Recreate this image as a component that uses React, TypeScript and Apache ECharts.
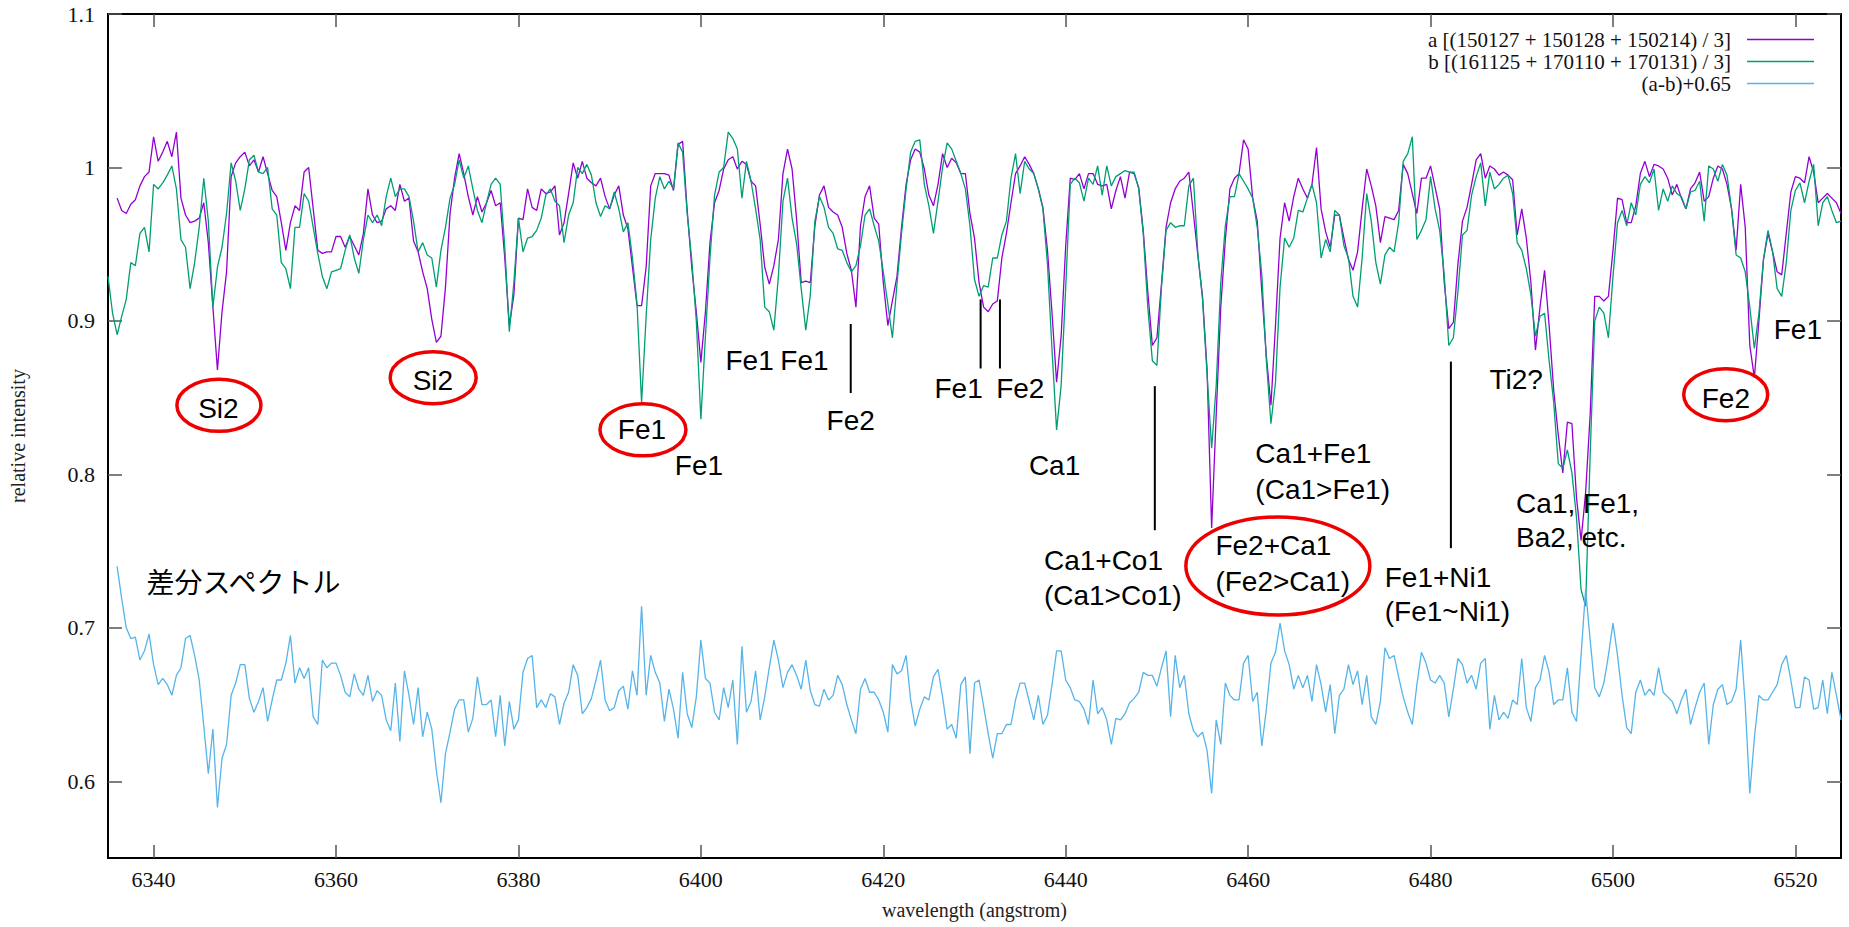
import React, { useEffect, useRef } from "react";
import * as echarts from "echarts";

// Sampling grid of the spectra (angstrom)
const wavelength = [
  6335,6335.5,6336,6336.5,6337,6337.5,6338,6338.5,6339,6339.5,6340,6340.5,6341,6341.5,6342,6342.5,6343,6343.5,6344,6344.5,
  6345,6345.5,6346,6346.5,6347,6347.5,6348,6348.5,6349,6349.5,6350,6350.5,6351,6351.5,6352,6352.5,6353,6353.5,6354,6354.5,
  6355,6355.5,6356,6356.5,6357,6357.5,6358,6358.5,6359,6359.5,6360,6360.5,6361,6361.5,6362,6362.5,6363,6363.5,6364,6364.5,
  6365,6365.5,6366,6366.5,6367,6367.5,6368,6368.5,6369,6369.5,6370,6370.5,6371,6371.5,6372,6372.5,6373,6373.5,6374,6374.5,
  6375,6375.5,6376,6376.5,6377,6377.5,6378,6378.5,6379,6379.5,6380,6380.5,6381,6381.5,6382,6382.5,6383,6383.5,6384,6384.5,
  6385,6385.5,6386,6386.5,6387,6387.5,6388,6388.5,6389,6389.5,6390,6390.5,6391,6391.5,6392,6392.5,6393,6393.5,6394,6394.5,
  6395,6395.5,6396,6396.5,6397,6397.5,6398,6398.5,6399,6399.5,6400,6400.5,6401,6401.5,6402,6402.5,6403,6403.5,6404,6404.5,
  6405,6405.5,6406,6406.5,6407,6407.5,6408,6408.5,6409,6409.5,6410,6410.5,6411,6411.5,6412,6412.5,6413,6413.5,6414,6414.5,
  6415,6415.5,6416,6416.5,6417,6417.5,6418,6418.5,6419,6419.5,6420,6420.5,6421,6421.5,6422,6422.5,6423,6423.5,6424,6424.5,
  6425,6425.5,6426,6426.5,6427,6427.5,6428,6428.5,6429,6429.5,6430,6430.5,6431,6431.5,6432,6432.5,6433,6433.5,6434,6434.5,
  6435,6435.5,6436,6436.5,6437,6437.5,6438,6438.5,6439,6439.5,6440,6440.5,6441,6441.5,6442,6442.5,6443,6443.5,6444,6444.5,
  6445,6445.5,6446,6446.5,6447,6447.5,6448,6448.5,6449,6449.5,6450,6450.5,6451,6451.5,6452,6452.5,6453,6453.5,6454,6454.5,
  6455,6455.5,6456,6456.5,6457,6457.5,6458,6458.5,6459,6459.5,6460,6460.5,6461,6461.5,6462,6462.5,6463,6463.5,6464,6464.5,
  6465,6465.5,6466,6466.5,6467,6467.5,6468,6468.5,6469,6469.5,6470,6470.5,6471,6471.5,6472,6472.5,6473,6473.5,6474,6474.5,
  6475,6475.5,6476,6476.5,6477,6477.5,6478,6478.5,6479,6479.5,6480,6480.5,6481,6481.5,6482,6482.5,6483,6483.5,6484,6484.5,
  6485,6485.5,6486,6486.5,6487,6487.5,6488,6488.5,6489,6489.5,6490,6490.5,6491,6491.5,6492,6492.5,6493,6493.5,6494,6494.5,
  6495,6495.5,6496,6496.5,6497,6497.5,6498,6498.5,6499,6499.5,6500,6500.5,6501,6501.5,6502,6502.5,6503,6503.5,6504,6504.5,
  6505,6505.5,6506,6506.5,6507,6507.5,6508,6508.5,6509,6509.5,6510,6510.5,6511,6511.5,6512,6512.5,6513,6513.5,6514,6514.5,
  6515,6515.5,6516,6516.5,6517,6517.5,6518,6518.5,6519,6519.5,6520,6520.5,6521,6521.5,6522,6522.5,6523,6523.5,6524,6524.5,
  6525,
];

// a [(150127 + 150128 + 150214) / 3]
const seriesA = [
  null,null,0.980,0.972,0.970,0.976,0.979,0.988,0.994,0.997,1.020,1.004,1.010,1.017,1.007,1.023,0.980,0.969,0.964,0.965,
  0.967,0.977,0.951,0.909,0.868,0.906,0.932,0.994,1.003,1.007,1.010,1.001,1.005,0.997,1.007,0.996,0.985,0.981,0.964,0.946,
  0.964,0.975,0.972,0.997,1.000,0.973,0.946,0.944,0.945,0.945,0.955,0.955,0.948,0.955,0.949,0.943,0.957,0.986,0.969,0.964,
  0.965,0.973,0.975,0.972,0.989,0.978,0.980,0.952,0.945,0.932,0.921,0.901,0.886,0.890,0.922,0.970,0.993,1.009,0.996,0.981,
  0.969,0.981,0.971,0.977,0.985,0.975,0.977,0.941,0.897,0.917,0.967,0.966,0.986,0.974,0.972,0.986,0.983,0.984,0.988,0.956,
  0.964,0.983,1.003,0.993,1.004,0.993,0.990,0.988,0.993,0.981,0.973,0.982,0.988,0.969,0.960,0.935,0.910,0.910,0.935,0.988,
  0.996,0.996,0.996,0.995,0.985,1.015,1.017,0.972,0.935,0.906,0.873,0.906,0.951,0.977,0.985,0.999,1.005,1.007,0.999,1.004,
  1.002,0.991,0.988,0.963,0.935,0.924,0.936,0.953,0.996,1.012,0.999,0.966,0.925,0.926,0.925,0.962,0.982,0.988,0.974,0.971,
  0.969,0.961,0.944,0.933,0.909,0.962,0.981,0.988,0.967,0.963,0.925,0.897,0.913,0.929,0.961,0.989,1.005,1.012,1.010,0.999,
  0.982,0.975,0.989,1.009,1.000,1.006,1.003,0.996,0.996,0.970,0.954,0.925,0.909,0.906,0.911,0.913,0.941,0.957,0.977,0.996,
  1.001,1.007,1.002,0.996,0.986,0.974,0.946,0.905,0.860,0.890,0.949,0.993,0.992,0.996,0.986,0.996,0.996,0.989,0.988,0.989,
  0.973,0.985,0.994,0.980,0.997,0.996,0.987,0.959,0.919,0.884,0.889,0.924,0.961,0.977,0.986,0.991,0.993,0.997,0.970,0.942,
  0.916,0.868,0.765,0.839,0.909,0.953,0.986,0.993,0.996,1.018,1.012,0.980,0.965,0.919,0.877,0.845,0.897,0.954,0.977,0.965,
  0.981,0.993,0.986,0.980,0.989,1.013,0.973,0.958,0.948,0.969,0.969,0.954,0.940,0.933,0.945,0.973,0.999,0.988,0.975,0.951,
  0.968,0.967,0.966,0.972,1.002,0.996,0.983,0.970,0.993,0.993,1.001,0.987,0.973,0.925,0.895,0.899,0.937,0.965,0.974,0.989,
  1.005,1.009,0.993,1.001,0.999,0.995,0.997,0.995,0.992,0.956,0.973,0.954,0.925,0.881,0.909,0.933,0.897,0.855,0.826,0.801,
  0.834,0.833,0.785,0.757,0.788,0.839,0.916,0.916,0.913,0.916,0.946,0.980,0.979,0.964,0.964,0.975,0.996,1.004,0.994,1.002,
  1.001,0.999,0.993,0.982,0.989,0.980,0.973,0.986,0.990,0.997,0.978,0.981,0.993,1.001,0.999,0.989,0.973,0.946,0.989,0.961,
  0.884,0.863,0.900,0.940,0.957,0.945,0.932,0.930,0.957,0.984,0.994,0.993,0.990,1.007,0.997,0.977,0.980,0.983,0.980,0.977,
  0.970,
];

// b [(161125 + 170110 + 170131) / 3]
const seriesB = [
  0.929,0.905,0.891,0.903,0.914,0.938,0.936,0.957,0.961,0.945,0.989,0.986,0.990,0.995,1.001,0.986,0.953,0.948,0.921,0.938,
  0.961,0.993,0.965,0.909,0.935,0.948,0.970,1.003,0.991,0.972,0.986,1.005,1.008,0.997,0.996,1.000,0.973,0.969,0.938,0.934,
  0.921,0.961,0.961,0.983,0.978,0.961,0.944,0.929,0.921,0.932,0.933,0.934,0.946,0.956,0.941,0.931,0.953,0.969,0.964,0.969,
  0.962,0.981,0.993,0.981,0.986,0.986,0.981,0.965,0.945,0.951,0.943,0.941,0.922,0.946,0.961,0.980,0.989,1.005,0.993,1.001,
  0.986,0.972,0.964,0.977,0.989,0.993,0.989,0.948,0.893,0.925,0.967,0.945,0.954,0.955,0.959,0.967,0.982,0.986,0.978,0.975,
  0.951,0.969,0.977,1.000,0.996,1.002,0.995,0.977,0.968,0.975,0.973,0.984,0.973,0.958,0.964,0.941,0.911,0.847,0.903,0.953,
  0.980,0.994,0.986,0.991,0.986,1.016,1.010,0.970,0.940,0.900,0.836,0.890,0.941,0.982,0.997,1.000,1.023,1.019,1.012,0.980,
  1.004,0.991,0.973,0.953,0.909,0.906,0.894,0.929,0.978,0.993,0.967,0.950,0.921,0.894,0.917,0.965,0.981,0.974,0.961,0.957,
  0.947,0.946,0.938,0.932,0.936,0.949,0.969,0.973,0.962,0.952,0.932,0.911,0.889,0.924,0.957,0.986,1.010,1.017,1.018,0.989,
  0.975,0.957,0.978,1.000,1.016,1.012,1.004,0.996,0.986,0.962,0.927,0.916,0.923,0.922,0.941,0.941,0.956,0.965,0.993,1.009,
  0.983,1.004,0.999,0.996,0.986,0.973,0.937,0.881,0.829,0.858,0.922,0.989,0.993,0.990,0.978,0.993,0.989,1.001,0.982,1.001,
  0.988,0.994,0.996,0.998,0.997,0.997,0.986,0.957,0.909,0.874,0.871,0.922,0.959,0.964,0.961,0.962,0.962,0.988,0.993,0.943,
  0.914,0.865,0.817,0.858,0.925,0.962,0.981,0.981,0.996,0.991,0.986,0.980,0.961,0.930,0.874,0.833,0.860,0.922,0.954,0.948,
  0.954,0.972,0.971,0.980,0.989,0.977,0.941,0.953,0.945,0.972,0.969,0.949,0.941,0.916,0.909,0.941,0.983,0.965,0.938,0.924,
  0.943,0.948,0.945,0.964,1.004,1.009,1.020,0.953,0.959,0.966,0.994,0.973,0.959,0.930,0.884,0.889,0.919,0.956,0.959,0.982,
  0.994,1.003,0.975,0.997,0.986,0.989,0.993,0.995,0.983,0.951,0.946,0.934,0.917,0.890,0.903,0.905,0.874,0.847,0.807,0.804,
  0.816,0.801,0.772,0.725,0.714,0.813,0.900,0.909,0.905,0.889,0.929,0.964,0.972,0.962,0.977,0.969,0.989,0.994,0.990,0.999,
  0.972,0.986,0.978,0.988,0.983,0.981,0.973,0.984,0.985,0.991,0.965,1.001,0.999,0.991,1.002,0.995,0.973,0.943,0.941,0.932,
  0.909,0.882,0.905,0.940,0.959,0.945,0.921,0.916,0.938,0.972,0.985,0.990,0.977,0.991,1.002,0.962,0.977,0.981,0.972,0.964,
  0.965,
];

// (a-b)+0.65
const seriesDiff = [
  null,null,0.740,0.719,0.700,0.693,0.694,0.679,0.685,0.696,0.676,0.663,0.667,0.663,0.656,0.669,0.674,0.693,0.695,0.682,
  0.666,0.636,0.605,0.634,0.583,0.615,0.624,0.656,0.664,0.676,0.676,0.654,0.645,0.652,0.661,0.639,0.653,0.666,0.666,0.677,
  0.695,0.664,0.674,0.667,0.674,0.642,0.637,0.679,0.674,0.677,0.677,0.669,0.658,0.655,0.670,0.660,0.656,0.669,0.652,0.659,
  0.656,0.640,0.633,0.664,0.626,0.672,0.656,0.637,0.661,0.629,0.645,0.634,0.607,0.586,0.618,0.632,0.647,0.653,0.653,0.632,
  0.641,0.668,0.650,0.650,0.653,0.629,0.656,0.623,0.652,0.634,0.640,0.671,0.680,0.682,0.648,0.653,0.648,0.657,0.655,0.637,
  0.651,0.658,0.676,0.669,0.644,0.648,0.654,0.666,0.679,0.653,0.646,0.648,0.659,0.662,0.647,0.672,0.656,0.714,0.656,0.682,
  0.671,0.664,0.639,0.660,0.647,0.628,0.671,0.644,0.635,0.655,0.692,0.667,0.664,0.645,0.640,0.661,0.648,0.666,0.624,0.688,
  0.645,0.652,0.672,0.640,0.655,0.674,0.692,0.679,0.661,0.671,0.676,0.669,0.660,0.679,0.659,0.650,0.649,0.660,0.653,0.656,
  0.669,0.663,0.650,0.640,0.631,0.660,0.667,0.658,0.658,0.653,0.645,0.632,0.676,0.670,0.672,0.682,0.653,0.636,0.647,0.655,
  0.653,0.668,0.673,0.655,0.634,0.637,0.628,0.663,0.668,0.618,0.664,0.666,0.649,0.631,0.615,0.631,0.631,0.637,0.637,0.653,
  0.664,0.664,0.652,0.640,0.656,0.637,0.643,0.663,0.685,0.685,0.666,0.661,0.653,0.652,0.647,0.637,0.666,0.644,0.648,0.640,
  0.624,0.641,0.640,0.644,0.651,0.654,0.658,0.671,0.669,0.669,0.662,0.674,0.685,0.642,0.682,0.661,0.669,0.644,0.633,0.629,
  0.632,0.620,0.592,0.640,0.624,0.664,0.656,0.653,0.653,0.677,0.682,0.652,0.658,0.623,0.647,0.677,0.684,0.703,0.685,0.676,
  0.660,0.669,0.661,0.669,0.652,0.676,0.663,0.645,0.663,0.631,0.656,0.660,0.676,0.663,0.672,0.650,0.669,0.642,0.637,0.652,
  0.687,0.680,0.682,0.668,0.655,0.645,0.637,0.663,0.684,0.677,0.666,0.664,0.669,0.664,0.642,0.660,0.680,0.676,0.664,0.669,
  0.660,0.677,0.680,0.634,0.656,0.640,0.645,0.641,0.653,0.650,0.680,0.648,0.639,0.661,0.666,0.682,0.671,0.650,0.653,0.653,
  0.674,0.645,0.639,0.682,0.725,0.692,0.661,0.655,0.664,0.682,0.703,0.682,0.656,0.635,0.631,0.658,0.666,0.656,0.660,0.656,
  0.674,0.658,0.655,0.652,0.644,0.653,0.660,0.637,0.648,0.658,0.664,0.624,0.650,0.660,0.663,0.650,0.652,0.660,0.692,0.650,
  0.592,0.628,0.656,0.653,0.653,0.658,0.663,0.676,0.682,0.666,0.648,0.648,0.668,0.666,0.647,0.648,0.666,0.644,0.671,0.656,
  0.640,
];

const xTicks = [6340, 6360, 6380, 6400, 6420, 6440, 6460, 6480, 6500, 6520];
const yTicks = [0.6, 0.7, 0.8, 0.9, 1.0, 1.1];

const seriesNames = [
  "a [(150127 + 150128 + 150214) / 3]",
  "b [(161125 + 170110 + 170131) / 3]",
  "(a-b)+0.65",
];
const seriesColors = ["#9400d3", "#009e73", "#56b4e9"];

// Line identifications (positions in data coordinates: wavelength, intensity)
const centeredLabels = [
  { text: "Si2", wl: 6347.1, v: 0.843 },
  { text: "Si2", wl: 6370.62, v: 0.861 },
  { text: "Fe1", wl: 6393.54, v: 0.8295 },
  { text: "Fe1", wl: 6399.79, v: 0.806 },
  { text: "Fe1", wl: 6405.34, v: 0.874 },
  { text: "Fe1", wl: 6411.36, v: 0.874 },
  { text: "Fe2", wl: 6416.43, v: 0.835 },
  { text: "Fe1", wl: 6428.26, v: 0.856 },
  { text: "Fe2", wl: 6435.02, v: 0.856 },
  { text: "Ca1", wl: 6438.78, v: 0.806 },
  { text: "Ti2?", wl: 6489.38, v: 0.8616 },
  { text: "Fe2", wl: 6512.38, v: 0.8497 },
  { text: "Fe1", wl: 6520.27, v: 0.8945 },
];
const leftLabels = [
  { text: "Ca1+Co1", wl: 6437.61, v: 0.7436 },
  { text: "(Ca1>Co1)", wl: 6437.61, v: 0.7208 },
  { text: "Fe2+Ca1", wl: 6456.41, v: 0.7535 },
  { text: "(Fe2>Ca1)", wl: 6456.41, v: 0.7300 },
  { text: "Ca1+Fe1", wl: 6460.79, v: 0.8136 },
  { text: "(Ca1>Fe1)", wl: 6460.79, v: 0.7900 },
  { text: "Fe1+Ni1", wl: 6474.98, v: 0.7330 },
  { text: "(Fe1~Ni1)", wl: 6474.98, v: 0.7108 },
  { text: "Ca1, Fe1,", wl: 6489.38, v: 0.7810 },
  { text: "Ba2, etc.", wl: 6489.38, v: 0.7589 },
];
const ellipses = [
  { wl: 6347.16, v: 0.845, rx: 42, ry: 26 },
  { wl: 6370.65, v: 0.863, rx: 43, ry: 26 },
  { wl: 6393.65, v: 0.829, rx: 43, ry: 26 },
  { wl: 6463.26, v: 0.7403, rx: 92, ry: 49 },
  { wl: 6512.36, v: 0.8519, rx: 42, ry: 26 },
];
const markerLines = [
  { wl: 6416.43, v1: 0.898, v2: 0.853 },
  { wl: 6430.67, v1: 0.914, v2: 0.869 },
  { wl: 6432.79, v1: 0.914, v2: 0.869 },
  { wl: 6449.77, v1: 0.8575, v2: 0.7636 },
  { wl: 6482.23, v1: 0.8735, v2: 0.7519 },
];
const noteLabel = { text: "差分スペクトル", wl: 6339.22, v: 0.7308 };

const SERIF = '"Liberation Serif", "Times New Roman", serif';
const SANS = '"Liberation Sans", Arial, sans-serif';
const CJK = '"Noto Sans CJK JP", "Noto Sans CJK SC", sans-serif';

export default function App() {
  const ref = useRef<HTMLDivElement>(null);

  useEffect(() => {
    const el = ref.current;
    if (!el) return;
    const chart = echarts.init(el, null, { renderer: "svg" });

    const tickStyle = { color: "#555", width: 1.5 };
    const mk = (vals: (number | null)[]) => wavelength.map((w, i) => [w, vals[i]]);

    const option: any = {
      animation: false,
      backgroundColor: "#fff",
      grid: {
        left: 106,
        right: 8,
        top: 14,
        bottom: 69,
        show: true,
        borderColor: "#000",
        borderWidth: 2,
        backgroundColor: "transparent",
      },
      xAxis: [
        {
          type: "value",
          min: 6335,
          max: 6525,
          position: "bottom",
          axisLine: { show: false },
          splitLine: { show: false },
          axisTick: { show: true, inside: true, length: 13, lineStyle: tickStyle, customValues: xTicks },
          axisLabel: {
            customValues: xTicks,
            fontFamily: SERIF,
            fontSize: 22,
            color: "#111",
            margin: 10,
            formatter: (v: number) => String(Math.round(v)),
          },
          name: "wavelength (angstrom)",
          nameLocation: "middle",
          nameGap: 42,
          nameTextStyle: { fontFamily: SERIF, fontSize: 20, color: "#222" },
        },
        {
          type: "value",
          min: 6335,
          max: 6525,
          position: "top",
          axisLine: { show: false },
          splitLine: { show: false },
          axisTick: { show: true, inside: true, length: 13, lineStyle: tickStyle, customValues: xTicks },
          axisLabel: { show: false },
        },
      ],
      yAxis: [
        {
          type: "value",
          min: 0.55,
          max: 1.1,
          position: "left",
          axisLine: { show: false },
          splitLine: { show: false },
          axisTick: { show: true, inside: true, length: 14, lineStyle: tickStyle, customValues: yTicks },
          axisLabel: {
            customValues: yTicks,
            fontFamily: SERIF,
            fontSize: 22,
            color: "#111",
            margin: 13,
            formatter: (v: number) => String(parseFloat(v.toFixed(2))),
          },
          name: "relative intensity",
          nameLocation: "middle",
          nameRotate: 90,
          nameGap: 80,
          nameTextStyle: { fontFamily: SERIF, fontSize: 20, color: "#222" },
        },
        {
          type: "value",
          min: 0.55,
          max: 1.1,
          position: "right",
          axisLine: { show: false },
          splitLine: { show: false },
          axisTick: { show: true, inside: true, length: 14, lineStyle: tickStyle, customValues: yTicks },
          axisLabel: { show: false },
        },
      ],
      series: [seriesA, seriesB, seriesDiff].map((vals, k) => ({
        name: seriesNames[k],
        type: "line",
        xAxisIndex: 0,
        yAxisIndex: 0,
        data: mk(vals),
        showSymbol: false,
        symbol: "none",
        connectNulls: false,
        lineStyle: { color: seriesColors[k], width: 1.3 },
        itemStyle: { color: seriesColors[k] },
        z: 2 + k,
      })),
    };

    chart.setOption(option);

    const toPx = (wl: number, v: number) =>
      chart.convertToPixel({ xAxisIndex: 0, yAxisIndex: 0 }, [wl, v]) as number[];

    const graphics: any[] = [];

    // legend (gnuplot style: right-aligned text, line sample to its right)
    const legendRows = [39.5, 61.5, 83.5];
    seriesNames.forEach((name, k) => {
      graphics.push({
        type: "text",
        x: 1731,
        y: legendRows[k],
        z: 50,
        style: {
          text: name,
          fill: "#111",
          fontFamily: SERIF,
          fontSize: 21,
          align: "right",
          verticalAlign: "middle",
        },
      });
      graphics.push({
        type: "line",
        z: 50,
        shape: { x1: 1747, y1: legendRows[k], x2: 1814, y2: legendRows[k] },
        style: { stroke: seriesColors[k], lineWidth: 1.3 },
      });
    });

    markerLines.forEach((m) => {
      const p1 = toPx(m.wl, m.v1);
      const p2 = toPx(m.wl, m.v2);
      graphics.push({
        type: "line",
        z: 60,
        shape: { x1: p1[0], y1: p1[1], x2: p2[0], y2: p2[1] },
        style: { stroke: "#000", lineWidth: 2 },
      });
    });

    ellipses.forEach((e) => {
      const p = toPx(e.wl, e.v);
      graphics.push({
        type: "ellipse",
        z: 61,
        shape: { cx: p[0], cy: p[1], rx: e.rx, ry: e.ry },
        style: { fill: "none", stroke: "#ee0000", lineWidth: 3.5 },
      });
    });

    centeredLabels.forEach((l) => {
      const p = toPx(l.wl, l.v);
      graphics.push({
        type: "text",
        x: p[0],
        y: p[1],
        z: 62,
        style: {
          text: l.text,
          fill: "#000",
          fontFamily: SANS,
          fontSize: 28,
          align: "center",
          verticalAlign: "middle",
        },
      });
    });

    leftLabels.forEach((l) => {
      const p = toPx(l.wl, l.v);
      graphics.push({
        type: "text",
        x: p[0],
        y: p[1],
        z: 62,
        style: {
          text: l.text,
          fill: "#000",
          fontFamily: SANS,
          fontSize: 28,
          align: "left",
          verticalAlign: "middle",
        },
      });
    });

    const np = toPx(noteLabel.wl, noteLabel.v);
    graphics.push({
      type: "text",
      x: np[0],
      y: np[1],
      z: 62,
      style: {
        text: noteLabel.text,
        fill: "#000",
        fontFamily: CJK,
        fontSize: 28,
        align: "left",
        verticalAlign: "middle",
      },
    });

    chart.setOption({ graphic: graphics });

    return () => {
      chart.dispose();
    };
  }, []);

  return (
    <div
      ref={ref}
      style={{ position: "fixed", left: 0, top: 0, width: 1849, height: 927, background: "#fff" }}
    />
  );
}
